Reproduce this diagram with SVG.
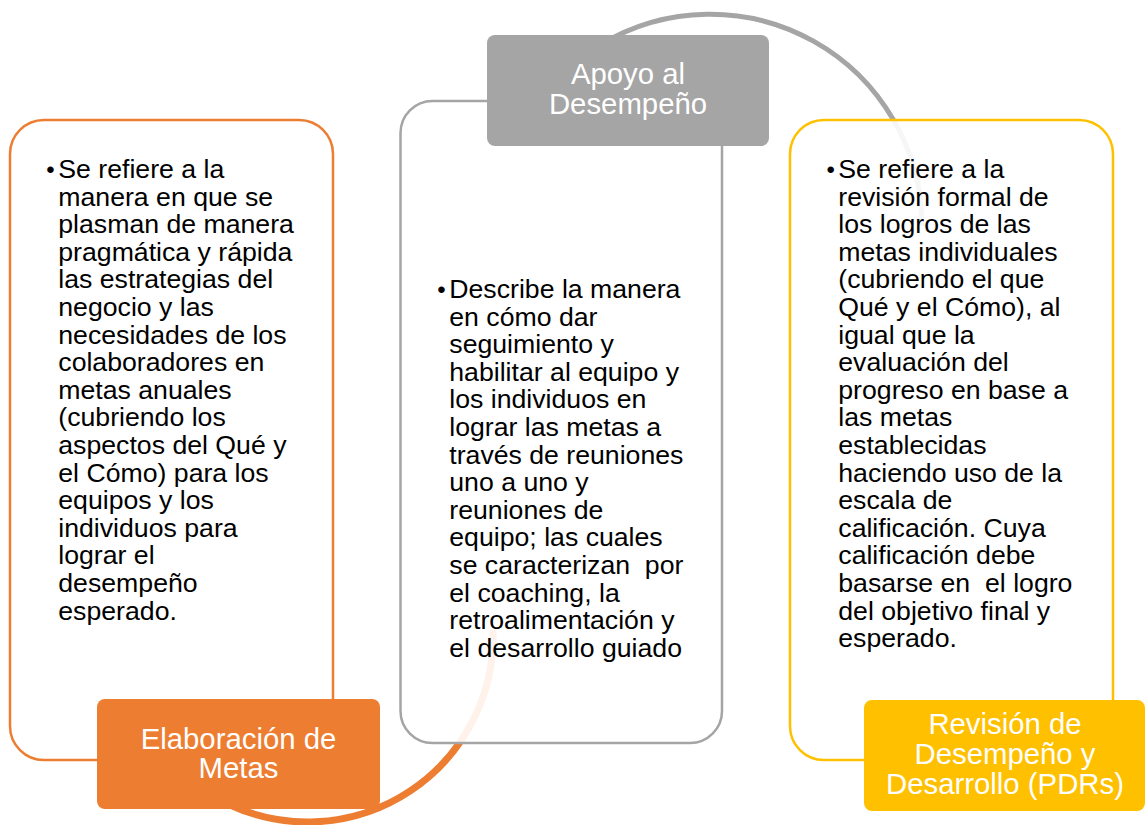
<svg xmlns="http://www.w3.org/2000/svg" width="1145" height="825" viewBox="0 0 1145 825">
<style>
.body{font-family:"Liberation Sans",Arial,sans-serif;font-size:26.67px;fill:#000}
.bul{font-family:"Liberation Sans",Arial,sans-serif;font-size:24px;fill:#000;text-anchor:middle}
.lbl{font-family:"Liberation Sans",Arial,sans-serif;font-size:29.33px;fill:#fff;text-anchor:middle}
.box{fill:#fff;fill-opacity:0.9;stroke-width:2.5}
.arc{fill:none}
</style>
<rect width="1145" height="825" fill="#fff"/>
<g id="connectors">
<path class="arc" stroke="#A5A5A5" stroke-width="5" d="M600,45 A212,212 0 0 1 922,226"/>
<path class="arc" stroke="#ED7D31" stroke-width="7" d="M493,630 A185.6,185.6 0 0 1 230,805"/>
</g>
<g id="node-elaboracion">
<rect class="box" x="10" y="120" width="323" height="640" rx="34" stroke="#ED7D31"/>
<text class="bul" x="50.5" y="177.5">•</text>
<text class="body" x="58.3" y="178">
<tspan x="58.3" dy="0">Se refiere a la</tspan>
<tspan x="58.3" dy="27.6">manera en que se</tspan>
<tspan x="58.3" dy="27.6">plasman de manera</tspan>
<tspan x="58.3" dy="27.6">pragmática y rápida</tspan>
<tspan x="58.3" dy="27.6">las estrategias del</tspan>
<tspan x="58.3" dy="27.6">negocio y las</tspan>
<tspan x="58.3" dy="27.6">necesidades de los</tspan>
<tspan x="58.3" dy="27.6">colaboradores en</tspan>
<tspan x="58.3" dy="27.6">metas anuales</tspan>
<tspan x="58.3" dy="27.6">(cubriendo los</tspan>
<tspan x="58.3" dy="27.6">aspectos del Qué y</tspan>
<tspan x="58.3" dy="27.6">el Cómo) para los</tspan>
<tspan x="58.3" dy="27.6">equipos y los</tspan>
<tspan x="58.3" dy="27.6">individuos para</tspan>
<tspan x="58.3" dy="27.6">lograr el</tspan>
<tspan x="58.3" dy="27.6">desempeño</tspan>
<tspan x="58.3" dy="27.6">esperado.</tspan>
</text>
<rect x="97" y="699" width="283" height="110" rx="8" fill="#ED7D31"/>
<text class="lbl" x="238.5" y="748.5">Elaboración de</text>
<text class="lbl" x="238.5" y="778">Metas</text>
</g>
<g id="node-apoyo">
<rect class="box" x="400.5" y="101" width="321.5" height="642" rx="32" stroke="#A5A5A5"/>
<text class="bul" x="441.5" y="297.5">•</text>
<text class="body" x="449.3" y="298">
<tspan x="449.3" dy="0">Describe la manera</tspan>
<tspan x="449.3" dy="27.6">en cómo dar</tspan>
<tspan x="449.3" dy="27.6">seguimiento y</tspan>
<tspan x="449.3" dy="27.6">habilitar al equipo y</tspan>
<tspan x="449.3" dy="27.6">los individuos en</tspan>
<tspan x="449.3" dy="27.6">lograr las metas a</tspan>
<tspan x="449.3" dy="27.6">través de reuniones</tspan>
<tspan x="449.3" dy="27.6">uno a uno y</tspan>
<tspan x="449.3" dy="27.6">reuniones de</tspan>
<tspan x="449.3" dy="27.6">equipo; las cuales</tspan>
<tspan x="449.3" dy="27.6" xml:space="preserve">se caracterizan  por</tspan>
<tspan x="449.3" dy="27.6">el coaching, la</tspan>
<tspan x="449.3" dy="27.6">retroalimentación y</tspan>
<tspan x="449.3" dy="27.6">el desarrollo guiado</tspan>
</text>
<rect x="487" y="35" width="282" height="111" rx="8" fill="#A5A5A5"/>
<text class="lbl" x="628" y="84">Apoyo al</text>
<text class="lbl" x="628" y="114">Desempeño</text>
</g>
<g id="node-revision">
<rect class="box" x="790" y="120" width="323" height="640" rx="34" stroke="#FFC000"/>
<text class="bul" x="830.8" y="177.5">•</text>
<text class="body" x="838.3" y="178">
<tspan x="838.3" dy="0">Se refiere a la</tspan>
<tspan x="838.3" dy="27.6">revisión formal de</tspan>
<tspan x="838.3" dy="27.6">los logros de las</tspan>
<tspan x="838.3" dy="27.6">metas individuales</tspan>
<tspan x="838.3" dy="27.6">(cubriendo el que</tspan>
<tspan x="838.3" dy="27.6">Qué y el Cómo), al</tspan>
<tspan x="838.3" dy="27.6">igual que la</tspan>
<tspan x="838.3" dy="27.6">evaluación del</tspan>
<tspan x="838.3" dy="27.6">progreso en base a</tspan>
<tspan x="838.3" dy="27.6">las metas</tspan>
<tspan x="838.3" dy="27.6">establecidas</tspan>
<tspan x="838.3" dy="27.6">haciendo uso de la</tspan>
<tspan x="838.3" dy="27.6">escala de</tspan>
<tspan x="838.3" dy="27.6">calificación. Cuya</tspan>
<tspan x="838.3" dy="27.6">calificación debe</tspan>
<tspan x="838.3" dy="27.6" xml:space="preserve">basarse en  el logro</tspan>
<tspan x="838.3" dy="27.6">del objetivo final y</tspan>
<tspan x="838.3" dy="27.6">esperado.</tspan>
</text>
<rect x="864" y="700" width="281" height="111" rx="8" fill="#FFC000"/>
<text class="lbl" x="1005" y="734.3">Revisión de</text>
<text class="lbl" x="1005" y="764.3">Desempeño y</text>
<text class="lbl" x="1005" y="794.3">Desarrollo (PDRs)</text>
</g>
</svg>
